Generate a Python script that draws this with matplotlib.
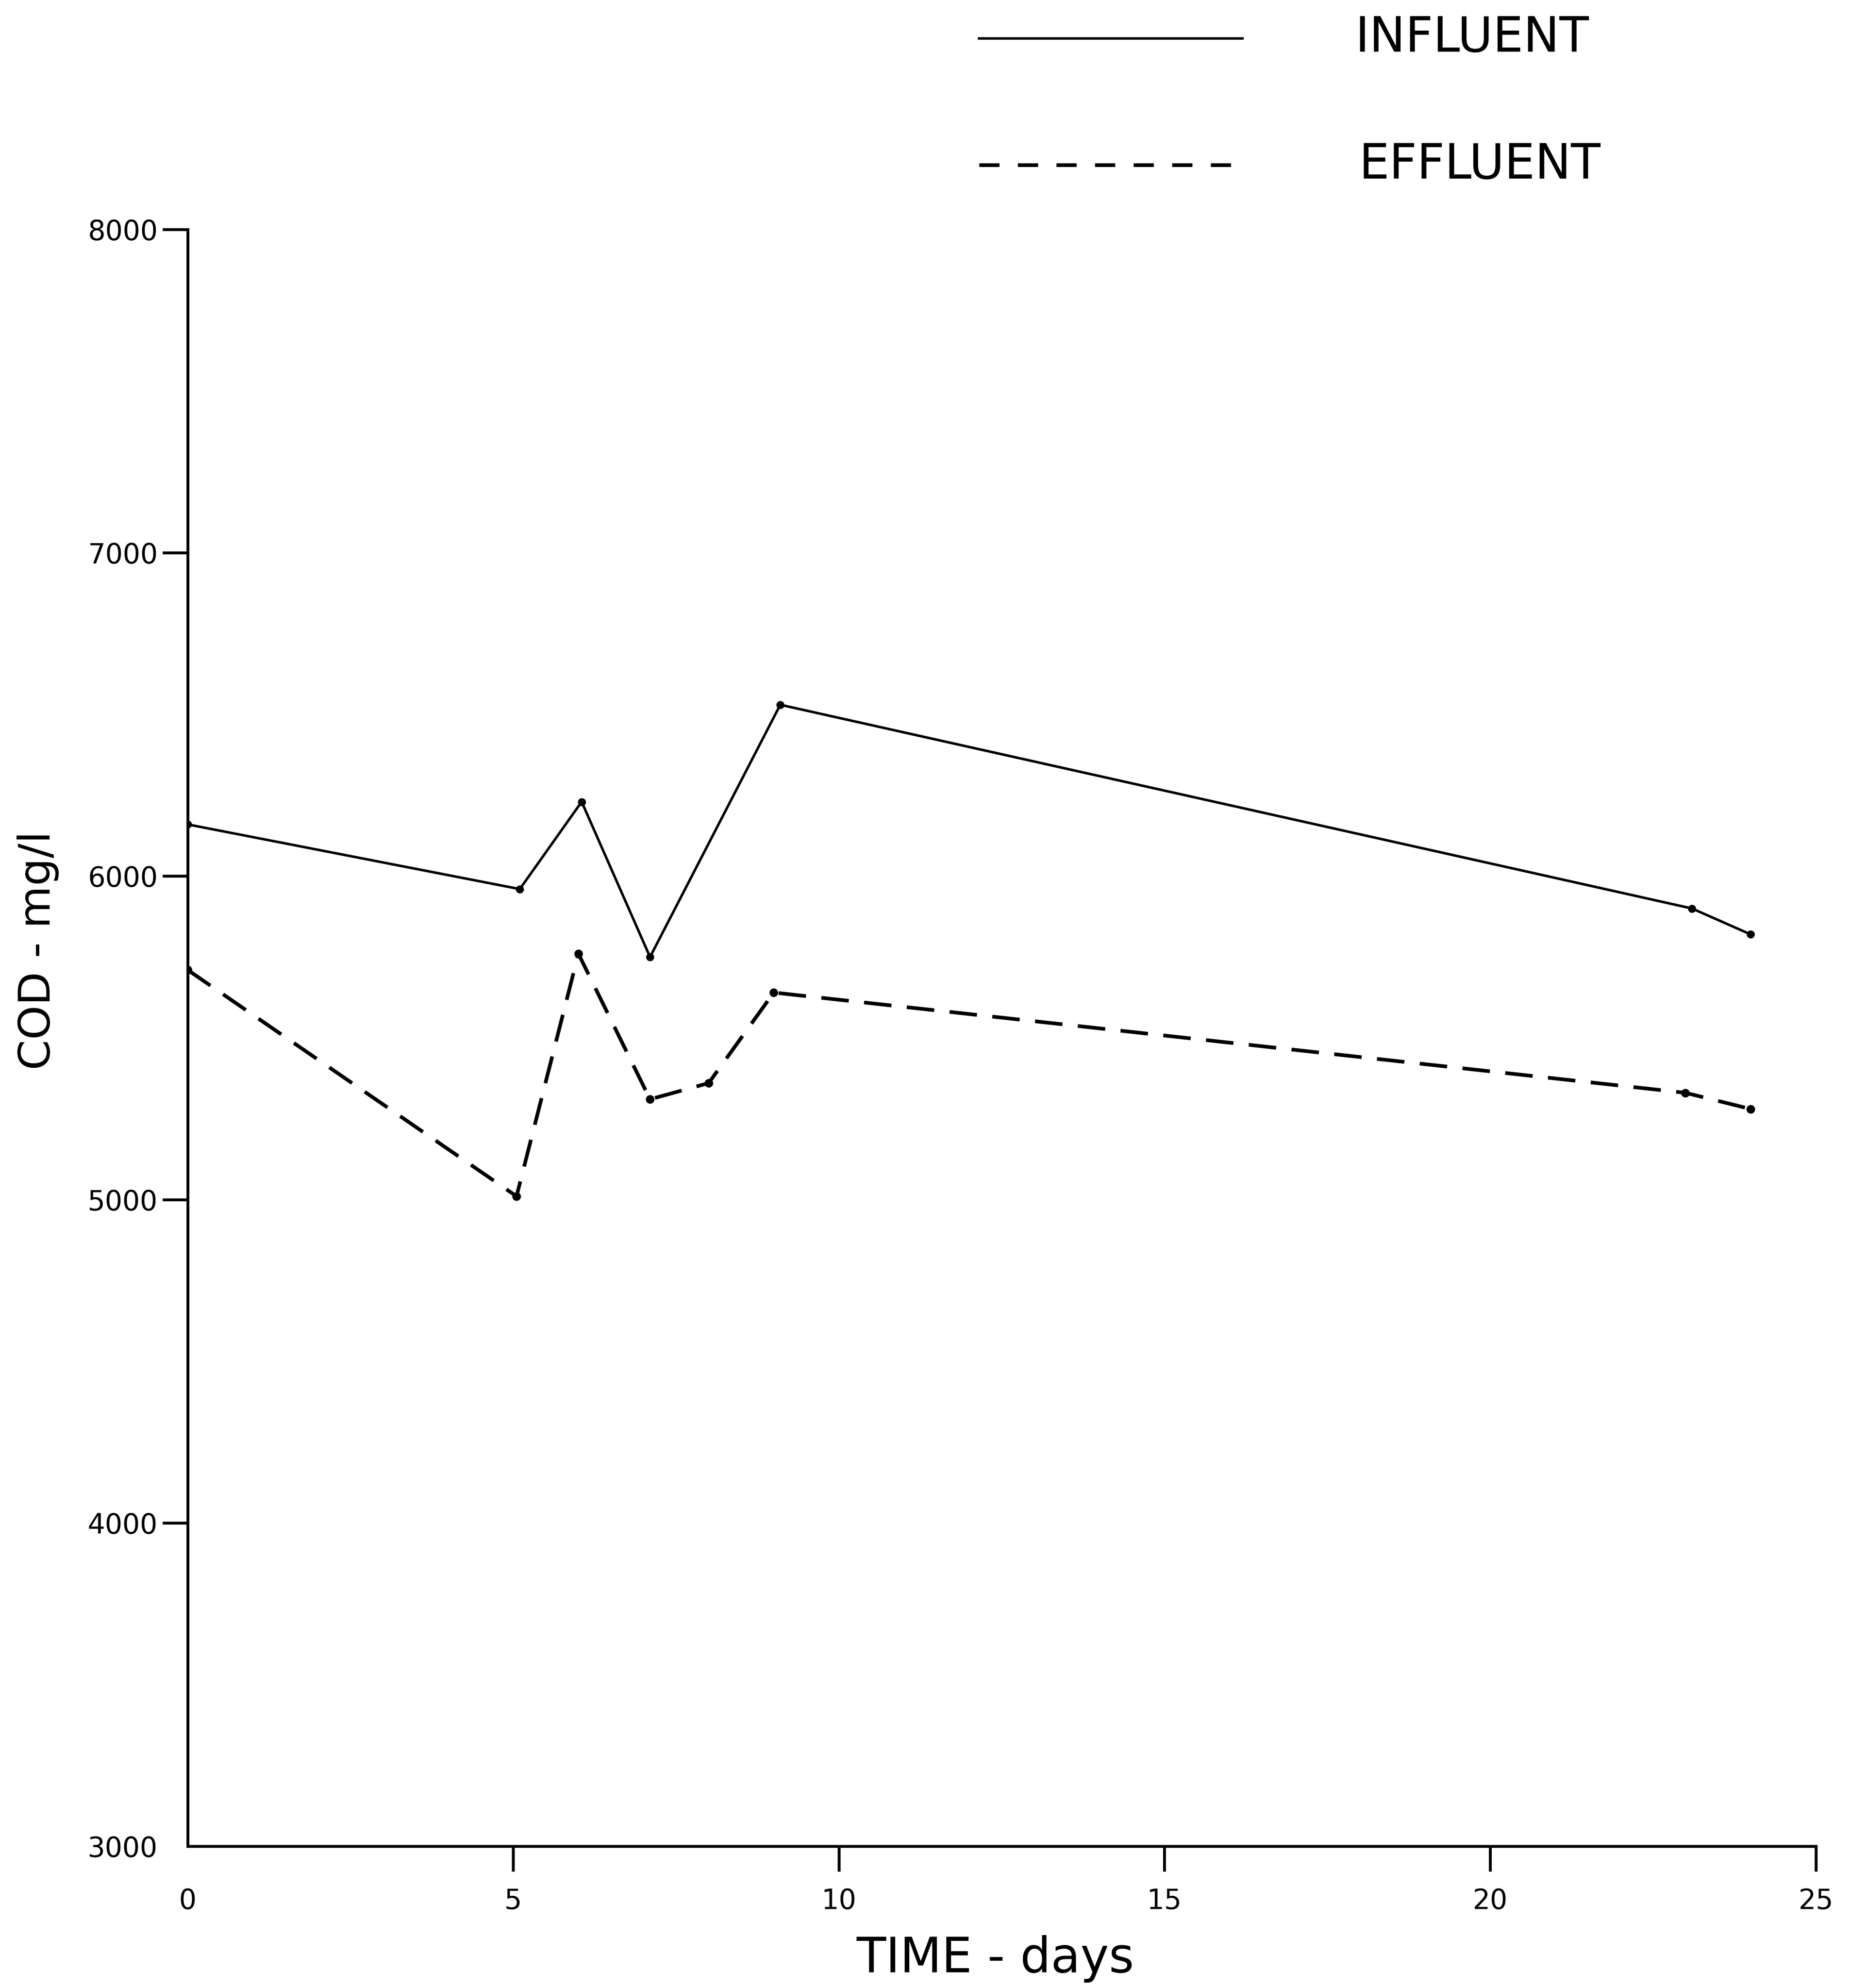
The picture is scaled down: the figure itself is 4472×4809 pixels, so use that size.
import numpy as np
import matplotlib
matplotlib.use("Agg")
import matplotlib.pyplot as plt
from matplotlib.lines import Line2D

# datos (COD en mg/l vs tiempo en dias)
dias_influente = [0, 5.1, 6.05, 7.1, 9.1, 23.1, 24.0]
cod_influente = [6160, 5960, 6230, 5750, 6530, 5900, 5820]

dias_efluente = [0, 5.05, 6.0, 7.1, 8.0, 9.0, 23.0, 24.0]
cod_efluente = [5710, 5010, 5760, 5310, 5360, 5640, 5330, 5280]

ticks_x = [0, 5, 10, 15, 20, 25]
ticks_y = [3000, 4000, 5000, 6000, 7000, 8000]

plt.rcParams['font.family'] = ['DejaVu Sans']

fig = plt.figure(figsize=(22.36, 24.045), dpi=200)
ax = fig.add_axes([0.1015, 0.0713, 0.8805, 0.8133])

ax.plot(dias_influente, cod_influente, color='black', linewidth=2.2,
        marker='o', markersize=6)
ax.plot(dias_efluente, cod_efluente, color='black', linewidth=3.2,
        linestyle=(0, (7.5, 4.2)), marker='o', markersize=6.5)

ax.set_xlim(0, 25)
ax.set_ylim(3000, 8000)
ax.set_xticks(ticks_x)
ax.set_yticks(ticks_y)
ax.set_xticklabels([str(t) for t in ticks_x], fontsize=24)
ax.set_yticklabels([str(t) for t in ticks_y], fontsize=24)

for s in ['top', 'right']:
    ax.spines[s].set_visible(False)
for s in ['left', 'bottom']:
    ax.spines[s].set_linewidth(2.5)

ax.tick_params(axis='y', direction='out', length=22, width=2.5, pad=4)
ax.tick_params(axis='x', direction='out', length=22, width=2.5, pad=14)
# sin marca en la esquina (0 y 3000)
ax.xaxis.get_major_ticks()[0].tick1line.set_visible(False)
ax.yaxis.get_major_ticks()[0].tick1line.set_visible(False)

# etiquetas de los ejes
fig.text(0.5384, 0.0146, 'TIME - days', ha='center', va='center', fontsize=42)
fig.text(0.0206, 0.522, 'COD - mg/l', ha='center', va='center',
         rotation=90, fontsize=38)

# leyenda dibujada a mano arriba a la derecha
fig.add_artist(Line2D([0.5295, 0.672], [0.9807, 0.9807], color='black',
                      linewidth=2.2, transform=fig.transFigure))
fig.add_artist(Line2D([0.5295, 0.669], [0.917, 0.917], color='black',
                      linewidth=3.2, linestyle=(0, (5.5, 5.0)),
                      transform=fig.transFigure))
fig.text(0.733, 0.9807, 'INFLUENT', ha='left', va='center', fontsize=42)
fig.text(0.735, 0.917, 'EFFLUENT', ha='left', va='center', fontsize=42)

plt.savefig('out.png', dpi=200, facecolor='white')
